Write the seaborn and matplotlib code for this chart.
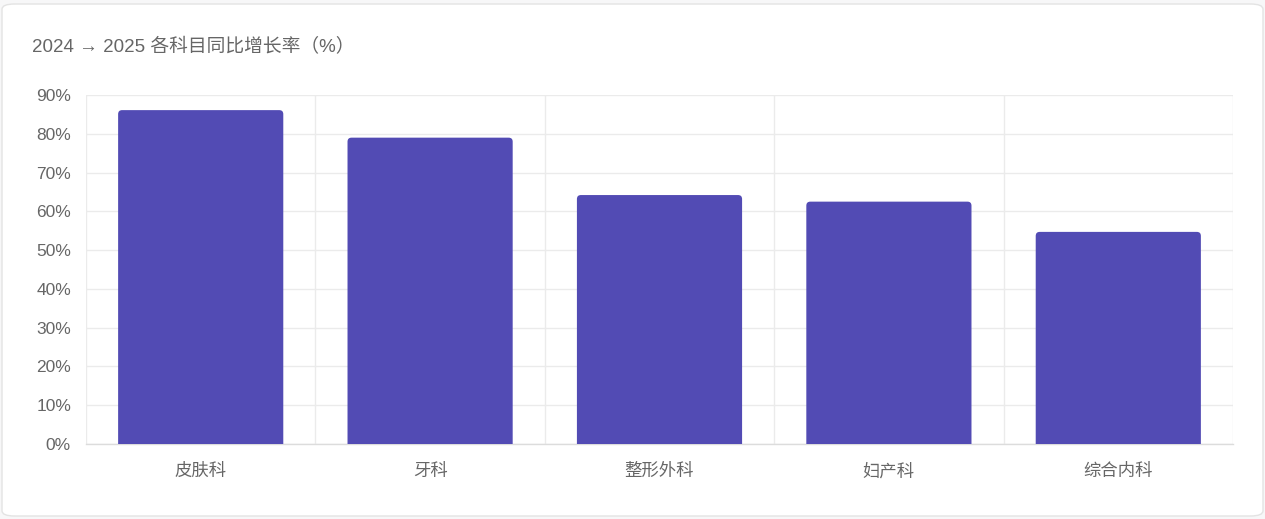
import numpy as np
import pandas as pd
import seaborn as sns
import matplotlib
matplotlib.use("Agg")
import matplotlib.pyplot as plt
from matplotlib.patches import FancyBboxPatch
from matplotlib.ticker import FixedLocator, FuncFormatter

# data
departments = ["皮肤科", "牙科", "整形外科", "妇产科", "综合内科"]
growth_pct = [86.1, 79.0, 64.2, 62.5, 54.7]
title = "2024 → 2025 各科目同比增长率（%）"

BAR = "#524bb4"
TEXT = "#666666"
GRID = "#ebebeb"

sns.set_theme(style="white")
plt.rcParams["font.family"] = ["Liberation Sans", "Noto Sans CJK SC", "DejaVu Sans"]

df = pd.DataFrame({"dept": departments, "growth": growth_pct})

W, H, DPI = 1265, 519, 100
fig = plt.figure(figsize=(W / DPI, H / DPI), dpi=DPI, facecolor="#f7f7f8")

# white card behind the chart
card = FancyBboxPatch((2 / W, 3 / H), 1261 / W, 512 / H,
                      boxstyle="round,pad=0,rounding_size=0.01",
                      transform=fig.transFigure, facecolor="white",
                      edgecolor="#e3e3e3", linewidth=1, zorder=-10)
fig.patches.append(card)

ax = fig.add_axes([86 / W, 75 / H, (1233 - 86) / W, (444 - 95) / H])
ax.set_facecolor("none")
ax.set_zorder(1)

sns.barplot(data=df, x="dept", y="growth", color=BAR, saturation=1,
            width=0.72, ax=ax, zorder=3)

ax.set_xlim(-0.5, len(departments) - 0.5)
ax.set_ylim(0, 90)

# swap plain bars for bars with rounded top corners
px_x = (len(departments)) / (1233 - 86)
px_y = 90 / (444 - 95)
r = 4 * px_x
for p in list(ax.patches):
    x0, y0 = p.get_x(), p.get_y()
    w, h = p.get_width(), p.get_height()
    p.set_visible(False)
    ext = 6 * px_y
    rb = FancyBboxPatch((x0, y0 - ext), w, h + ext,
                        boxstyle=f"round,pad=0,rounding_size={r}",
                        mutation_aspect=px_y / px_x,
                        facecolor=BAR, edgecolor="none", zorder=3)
    ax.add_patch(rb)

# y axis
ax.yaxis.set_major_locator(FixedLocator(np.arange(0, 91, 10)))
ax.yaxis.set_major_formatter(FuncFormatter(lambda v, _: f"{v:.0f}%"))
ax.tick_params(axis="y", length=7.2, width=1, color=GRID, pad=3.6,
               labelsize=12.5, labelcolor=TEXT)
ax.grid(axis="y", color=GRID, linewidth=1, zorder=0)

# x axis: labels at centres, grid lines on band edges
ax.set_xticks(range(len(departments)))
ax.set_xticks(np.arange(-0.5, len(departments), 1.0), minor=True)
ax.tick_params(axis="x", which="major", length=0, pad=13.5,
               labelsize=12.5, labelcolor=TEXT)
ax.tick_params(axis="x", which="minor", length=8, width=1, color=GRID)
ax.grid(axis="x", which="minor", color=GRID, linewidth=1, zorder=0)
ax.grid(axis="x", which="major", visible=False)
ax.set_axisbelow(True)

for side in ["top", "right", "left"]:
    ax.spines[side].set_visible(False)
ax.spines["bottom"].set_color("#dcdcdc")
ax.spines["bottom"].set_linewidth(1)
ax.set_xlabel("")
ax.set_ylabel("")

fig.text(32 / W, 1 - 47 / H, title, fontsize=13.5, color=TEXT, va="center", ha="left")

fig.savefig("out.png", dpi=DPI, facecolor=fig.get_facecolor())
